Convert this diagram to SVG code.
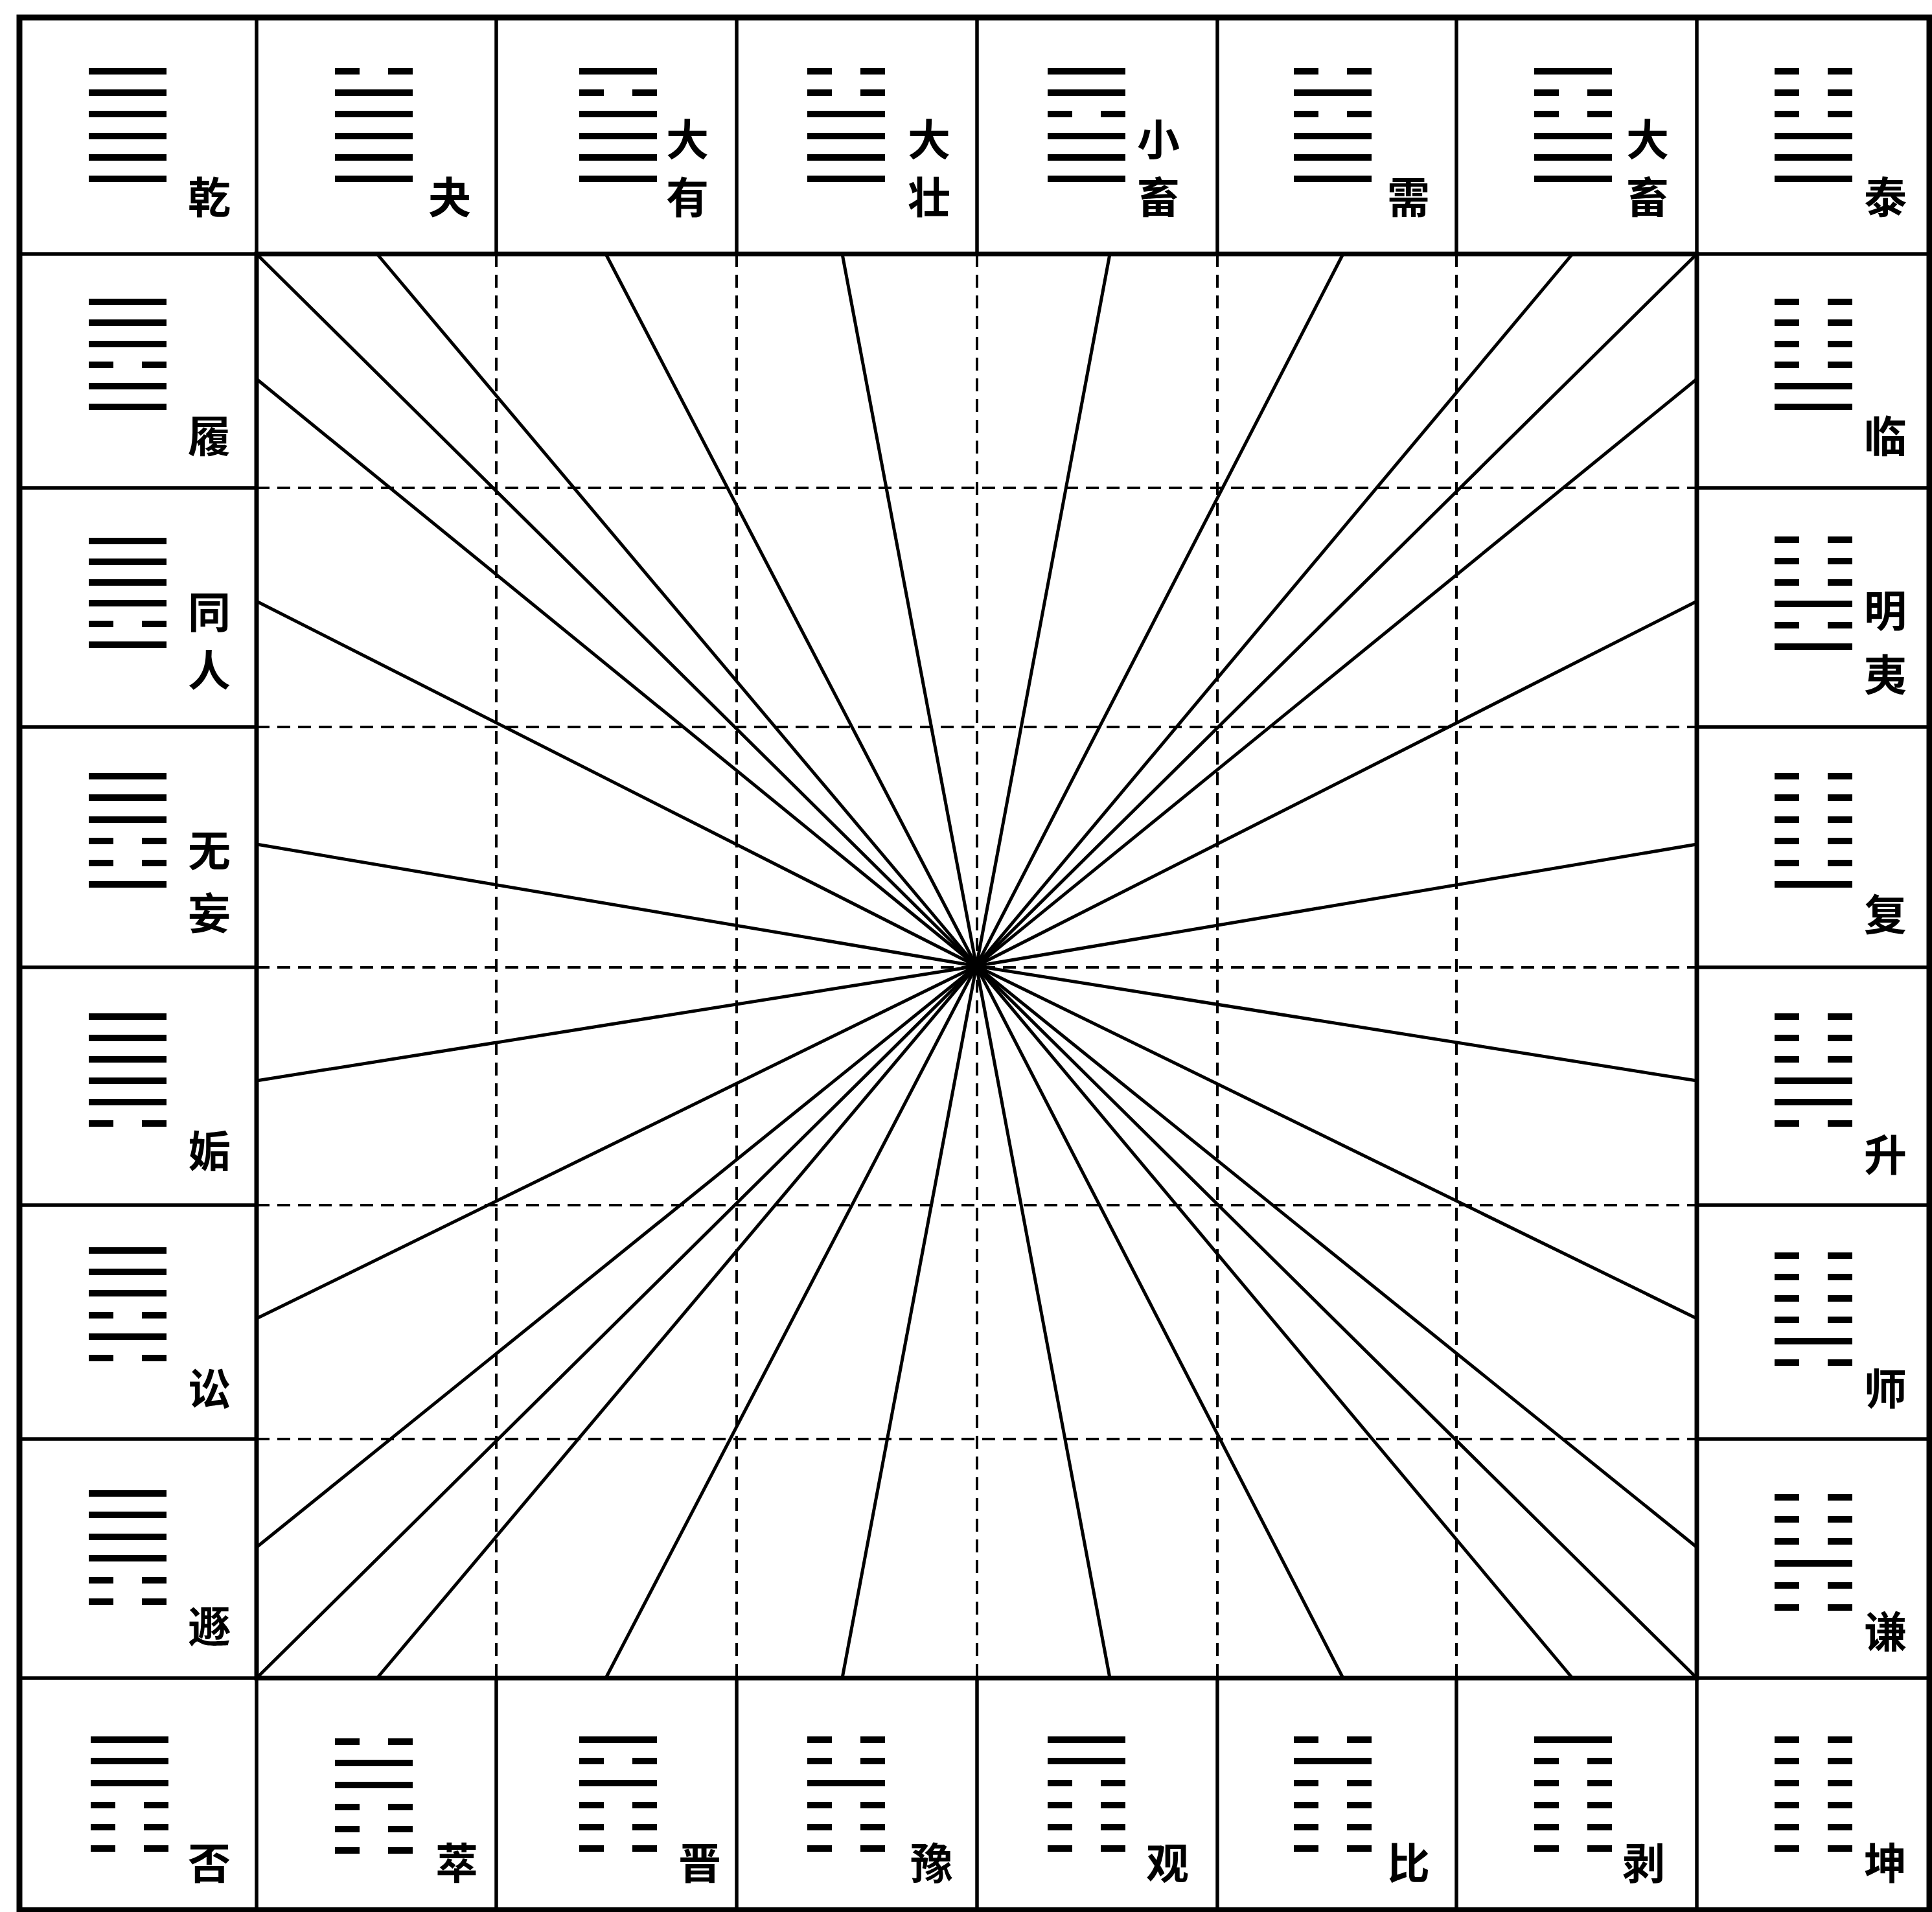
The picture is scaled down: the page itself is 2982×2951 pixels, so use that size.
<svg xmlns="http://www.w3.org/2000/svg" width="2982" height="2951" viewBox="0 0 2982 2951">
<style>
.bg{fill:#fff}
.outer{fill:none;stroke:#000;stroke-width:9}
.solid{stroke:#000;stroke-width:5.5;fill:none}
.dash{stroke:#000;stroke-width:4;stroke-dasharray:20 12;fill:none}
.ray{stroke:#000;stroke-width:5;fill:none}
.lbl{font-family:"Noto Sans CJK SC","Noto Sans CJK TC",sans-serif;font-size:66px;font-weight:bold;fill:#000;text-anchor:middle;dominant-baseline:central}
</style>
<defs>
<g id="yang"><rect x="0" y="-5" width="120" height="10" fill="#000"/></g>
<g id="yin"><rect x="0" y="-5" width="38" height="10" fill="#000"/><rect x="82" y="-5" width="38" height="10" fill="#000"/></g>
</defs>
<rect class="bg" x="0" y="0" width="2982" height="2951"/>

<g id="grid">
<path class="dash" d="M766 392V2590M1137 392V2590M1508 392V2590M1879 392V2590M2248 392V2590"/>
<path class="dash" d="M396 753H2619M396 1122H2619M396 1493H2619M396 1860H2619M396 2221H2619"/>
<path class="solid" d="M396 27V392M766 27V392M1137 27V392M1508 27V392M1879 27V392M2248 27V392M2619 27V392"/>
<path class="solid" d="M396 2590V2948M766 2590V2948M1137 2590V2948M1508 2590V2948M1879 2590V2948M2248 2590V2948M2619 2590V2948"/>
<path class="solid" d="M30 392H396M30 753H396M30 1122H396M30 1493H396M30 1860H396M30 2221H396M30 2590H396"/>
<path class="solid" d="M2619 392H2978M2619 753H2978M2619 1122H2978M2619 1493H2978M2619 1860H2978M2619 2221H2978M2619 2590H2978"/>
<rect class="solid" x="396" y="392" width="2223" height="2198" style="stroke-width:7"/>
<rect class="outer" x="30" y="27" width="2948" height="2921"/>
</g>

<g id="connectors">
<line class="ray" x1="1507" y1="1491" x2="396" y2="392"/>
<line class="ray" x1="1507" y1="1491" x2="582" y2="392"/>
<line class="ray" x1="1507" y1="1491" x2="935" y2="392"/>
<line class="ray" x1="1507" y1="1491" x2="1300" y2="392"/>
<line class="ray" x1="1507" y1="1491" x2="1713" y2="392"/>
<line class="ray" x1="1507" y1="1491" x2="2073" y2="392"/>
<line class="ray" x1="1507" y1="1491" x2="2427" y2="392"/>
<line class="ray" x1="1507" y1="1491" x2="2619" y2="392"/>
<line class="ray" x1="1507" y1="1491" x2="396" y2="2590"/>
<line class="ray" x1="1507" y1="1491" x2="582" y2="2590"/>
<line class="ray" x1="1507" y1="1491" x2="935" y2="2590"/>
<line class="ray" x1="1507" y1="1491" x2="1300" y2="2590"/>
<line class="ray" x1="1507" y1="1491" x2="1713" y2="2590"/>
<line class="ray" x1="1507" y1="1491" x2="2073" y2="2590"/>
<line class="ray" x1="1507" y1="1491" x2="2427" y2="2590"/>
<line class="ray" x1="1507" y1="1491" x2="2619" y2="2590"/>
<line class="ray" x1="1507" y1="1491" x2="396" y2="585"/>
<line class="ray" x1="1507" y1="1491" x2="396" y2="928"/>
<line class="ray" x1="1507" y1="1491" x2="396" y2="1303"/>
<line class="ray" x1="1507" y1="1491" x2="396" y2="1668"/>
<line class="ray" x1="1507" y1="1491" x2="396" y2="2035"/>
<line class="ray" x1="1507" y1="1491" x2="396" y2="2388"/>
<line class="ray" x1="1507" y1="1491" x2="2619" y2="585"/>
<line class="ray" x1="1507" y1="1491" x2="2619" y2="928"/>
<line class="ray" x1="1507" y1="1491" x2="2619" y2="1303"/>
<line class="ray" x1="1507" y1="1491" x2="2619" y2="1668"/>
<line class="ray" x1="1507" y1="1491" x2="2619" y2="2035"/>
<line class="ray" x1="1507" y1="1491" x2="2619" y2="2388"/>
</g>

<g id="qian">
<use href="#yang" x="137" y="110"/><use href="#yang" x="137" y="143"/><use href="#yang" x="137" y="176"/><use href="#yang" x="137" y="210"/><use href="#yang" x="137" y="243"/><use href="#yang" x="137" y="276"/>
<text class="lbl" x="323" y="300">乾</text>
</g>
<g id="guai">
<use href="#yin" x="517" y="110"/><use href="#yang" x="517" y="143"/><use href="#yang" x="517" y="176"/><use href="#yang" x="517" y="210"/><use href="#yang" x="517" y="243"/><use href="#yang" x="517" y="276"/>
<text class="lbl" x="694" y="300">夬</text>
</g>
<g id="dayou">
<use href="#yang" x="894" y="110"/><use href="#yin" x="894" y="143"/><use href="#yang" x="894" y="176"/><use href="#yang" x="894" y="210"/><use href="#yang" x="894" y="243"/><use href="#yang" x="894" y="276"/>
<text class="lbl" x="1061" y="211">大</text><text class="lbl" x="1061" y="300">有</text>
</g>
<g id="dazhuang">
<use href="#yin" x="1246" y="110"/><use href="#yin" x="1246" y="143"/><use href="#yang" x="1246" y="176"/><use href="#yang" x="1246" y="210"/><use href="#yang" x="1246" y="243"/><use href="#yang" x="1246" y="276"/>
<text class="lbl" x="1434" y="211">大</text><text class="lbl" x="1434" y="300">壮</text>
</g>
<g id="xiaoxu">
<use href="#yang" x="1617" y="110"/><use href="#yang" x="1617" y="143"/><use href="#yin" x="1617" y="176"/><use href="#yang" x="1617" y="210"/><use href="#yang" x="1617" y="243"/><use href="#yang" x="1617" y="276"/>
<text class="lbl" x="1788" y="211">小</text><text class="lbl" x="1788" y="300">畜</text>
</g>
<g id="xu">
<use href="#yin" x="1997" y="110"/><use href="#yang" x="1997" y="143"/><use href="#yin" x="1997" y="176"/><use href="#yang" x="1997" y="210"/><use href="#yang" x="1997" y="243"/><use href="#yang" x="1997" y="276"/>
<text class="lbl" x="2174" y="300">需</text>
</g>
<g id="daxu">
<use href="#yang" x="2368" y="110"/><use href="#yin" x="2368" y="143"/><use href="#yin" x="2368" y="176"/><use href="#yang" x="2368" y="210"/><use href="#yang" x="2368" y="243"/><use href="#yang" x="2368" y="276"/>
<text class="lbl" x="2543" y="211">大</text><text class="lbl" x="2543" y="300">畜</text>
</g>
<g id="tai">
<use href="#yin" x="2739" y="110"/><use href="#yin" x="2739" y="143"/><use href="#yin" x="2739" y="176"/><use href="#yang" x="2739" y="210"/><use href="#yang" x="2739" y="243"/><use href="#yang" x="2739" y="276"/>
<text class="lbl" x="2910" y="300">泰</text>
</g>

<g id="lv">
<use href="#yang" x="137" y="466"/><use href="#yang" x="137" y="498"/><use href="#yang" x="137" y="531"/><use href="#yin" x="137" y="563"/><use href="#yang" x="137" y="596"/><use href="#yang" x="137" y="628"/>
<text class="lbl" x="323" y="669">履</text>
</g>
<g id="tongren">
<use href="#yang" x="137" y="835"/><use href="#yang" x="137" y="867"/><use href="#yang" x="137" y="899"/><use href="#yang" x="137" y="931"/><use href="#yin" x="137" y="963"/><use href="#yang" x="137" y="995"/>
<text class="lbl" x="323" y="940">同</text><text class="lbl" x="323" y="1030">人</text>
</g>
<g id="wuwang">
<use href="#yang" x="137" y="1198"/><use href="#yang" x="137" y="1231"/><use href="#yang" x="137" y="1265"/><use href="#yin" x="137" y="1298"/><use href="#yin" x="137" y="1332"/><use href="#yang" x="137" y="1365"/>
<text class="lbl" x="323" y="1308">无</text><text class="lbl" x="323" y="1405">妄</text>
</g>
<g id="gou">
<use href="#yang" x="137" y="1569"/><use href="#yang" x="137" y="1602"/><use href="#yang" x="137" y="1635"/><use href="#yang" x="137" y="1668"/><use href="#yang" x="137" y="1701"/><use href="#yin" x="137" y="1734"/>
<text class="lbl" x="323" y="1772">姤</text>
</g>
<g id="song">
<use href="#yang" x="137" y="1930"/><use href="#yang" x="137" y="1963"/><use href="#yang" x="137" y="1996"/><use href="#yin" x="137" y="2030"/><use href="#yang" x="137" y="2063"/><use href="#yin" x="137" y="2096"/>
<text class="lbl" x="323" y="2139">讼</text>
</g>
<g id="dun">
<use href="#yang" x="137" y="2305"/><use href="#yang" x="137" y="2338"/><use href="#yang" x="137" y="2372"/><use href="#yang" x="137" y="2405"/><use href="#yin" x="137" y="2439"/><use href="#yin" x="137" y="2472"/>
<text class="lbl" x="323" y="2506">遯</text>
</g>

<g id="pi">
<use href="#yang" x="140" y="2685"/><use href="#yang" x="140" y="2718"/><use href="#yang" x="140" y="2752"/><use href="#yin" x="140" y="2786"/><use href="#yin" x="140" y="2820"/><use href="#yin" x="140" y="2853"/>
<text class="lbl" x="323" y="2871">否</text>
</g>
<g id="cui">
<use href="#yin" x="517" y="2688"/><use href="#yang" x="517" y="2721"/><use href="#yang" x="517" y="2755"/><use href="#yin" x="517" y="2789"/><use href="#yin" x="517" y="2823"/><use href="#yin" x="517" y="2856"/>
<text class="lbl" x="705" y="2871">萃</text>
</g>
<g id="jin">
<use href="#yang" x="894" y="2685"/><use href="#yin" x="894" y="2718"/><use href="#yang" x="894" y="2752"/><use href="#yin" x="894" y="2786"/><use href="#yin" x="894" y="2820"/><use href="#yin" x="894" y="2853"/>
<text class="lbl" x="1080" y="2871">晋</text>
</g>
<g id="yu">
<use href="#yin" x="1246" y="2685"/><use href="#yin" x="1246" y="2718"/><use href="#yang" x="1246" y="2752"/><use href="#yin" x="1246" y="2786"/><use href="#yin" x="1246" y="2820"/><use href="#yin" x="1246" y="2853"/>
<text class="lbl" x="1438" y="2871">豫</text>
</g>
<g id="guan">
<use href="#yang" x="1617" y="2685"/><use href="#yang" x="1617" y="2718"/><use href="#yin" x="1617" y="2752"/><use href="#yin" x="1617" y="2786"/><use href="#yin" x="1617" y="2820"/><use href="#yin" x="1617" y="2853"/>
<text class="lbl" x="1802" y="2871">观</text>
</g>
<g id="bi">
<use href="#yin" x="1997" y="2685"/><use href="#yang" x="1997" y="2718"/><use href="#yin" x="1997" y="2752"/><use href="#yin" x="1997" y="2786"/><use href="#yin" x="1997" y="2820"/><use href="#yin" x="1997" y="2853"/>
<text class="lbl" x="2174" y="2871">比</text>
</g>
<g id="bo">
<use href="#yang" x="2368" y="2685"/><use href="#yin" x="2368" y="2718"/><use href="#yin" x="2368" y="2752"/><use href="#yin" x="2368" y="2786"/><use href="#yin" x="2368" y="2820"/><use href="#yin" x="2368" y="2853"/>
<text class="lbl" x="2537" y="2871">剥</text>
</g>
<g id="kun">
<use href="#yin" x="2739" y="2685"/><use href="#yin" x="2739" y="2718"/><use href="#yin" x="2739" y="2752"/><use href="#yin" x="2739" y="2786"/><use href="#yin" x="2739" y="2820"/><use href="#yin" x="2739" y="2853"/>
<text class="lbl" x="2910" y="2871">坤</text>
</g>

<g id="lin">
<use href="#yin" x="2739" y="466"/><use href="#yin" x="2739" y="498"/><use href="#yin" x="2739" y="531"/><use href="#yin" x="2739" y="563"/><use href="#yang" x="2739" y="596"/><use href="#yang" x="2739" y="628"/>
<text class="lbl" x="2910" y="669">临</text>
</g>
<g id="mingyi">
<use href="#yin" x="2739" y="833"/><use href="#yin" x="2739" y="866"/><use href="#yin" x="2739" y="899"/><use href="#yang" x="2739" y="932"/><use href="#yin" x="2739" y="965"/><use href="#yang" x="2739" y="998"/>
<text class="lbl" x="2910" y="938">明</text><text class="lbl" x="2910" y="1037">夷</text>
</g>
<g id="fu">
<use href="#yin" x="2739" y="1198"/><use href="#yin" x="2739" y="1231"/><use href="#yin" x="2739" y="1265"/><use href="#yin" x="2739" y="1298"/><use href="#yin" x="2739" y="1332"/><use href="#yang" x="2739" y="1365"/>
<text class="lbl" x="2910" y="1407">复</text>
</g>
<g id="sheng">
<use href="#yin" x="2739" y="1569"/><use href="#yin" x="2739" y="1602"/><use href="#yin" x="2739" y="1635"/><use href="#yang" x="2739" y="1668"/><use href="#yang" x="2739" y="1701"/><use href="#yin" x="2739" y="1734"/>
<text class="lbl" x="2910" y="1778">升</text>
</g>
<g id="shi">
<use href="#yin" x="2739" y="1938"/><use href="#yin" x="2739" y="1971"/><use href="#yin" x="2739" y="2004"/><use href="#yin" x="2739" y="2037"/><use href="#yang" x="2739" y="2070"/><use href="#yin" x="2739" y="2103"/>
<text class="lbl" x="2910" y="2139">师</text>
</g>
<g id="qian2">
<use href="#yin" x="2739" y="2311"/><use href="#yin" x="2739" y="2345"/><use href="#yin" x="2739" y="2379"/><use href="#yang" x="2739" y="2413"/><use href="#yin" x="2739" y="2447"/><use href="#yin" x="2739" y="2481"/>
<text class="lbl" x="2910" y="2514">谦</text>
</g>
</svg>
